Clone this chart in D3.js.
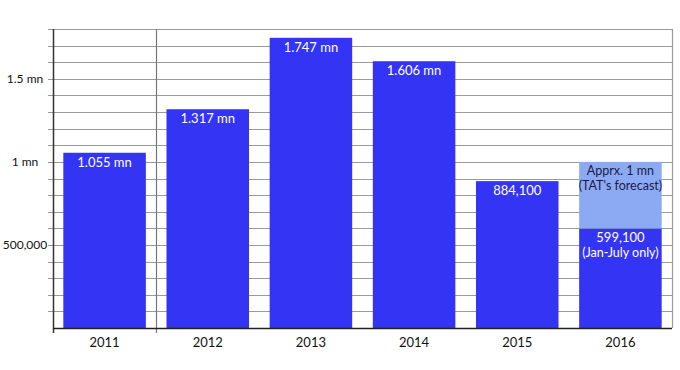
<!DOCTYPE html>
<html>
<head>
<meta charset="utf-8">
<script src="https://cdn.jsdelivr.net/npm/d3@7/dist/d3.min.js"></script>
<style>
  body { margin: 0; background: #fff; }
  text { font-family: Lato, "Open Sans", "Liberation Sans", sans-serif; }
</style>
</head>
<body>
<div id="chart"></div>
<script>
// data
const years = ["2011", "2012", "2013", "2014", "2015", "2016"];
const arrivals = [1055000, 1317000, 1747000, 1606000, 884100, 599100];
const barLabels = ["1.055 mn", "1.317 mn", "1.747 mn", "1.606 mn", "884,100", "599,100"];
const forecastYear = "2016";
const forecastValue = 1000000;
const forecastLabels = ["Apprx. 1 mn", "(TAT's forecast)"];
const partialNote = "(Jan-July only)";
const yTicks = [500000, 1000000, 1500000];
const yTickLabels = ["500,000", "1 mn", "1.5 mn"];

// set the dimensions and margins of the graph
const margin = {top: 29, right: 8, bottom: 42, left: 53};
const width  = 680 - margin.left - margin.right;
const height = 370 - margin.top - margin.bottom;

const x = d3.scaleBand()
    .domain(years)
    .range([0, width])
    .paddingInner(0.2)
    .paddingOuter(0.1);
const y = d3.scaleLinear()
    .domain([0, 1800000])
    .range([height, 0]);

const svg = d3.select("#chart").append("svg")
    .attr("width", 680)
    .attr("height", 370)
    .append("g")
    .attr("transform", "translate(" + margin.left + "," + margin.top + ")");

// horizontal gridlines every 100,000
svg.append("g")
    .selectAll("line")
    .data(d3.range(100000, 1800001, 100000))
    .enter().append("line")
    .attr("x1", -5)
    .attr("x2", width)
    .attr("y1", d => Math.round(y(d)) + 0.5)
    .attr("y2", d => Math.round(y(d)) + 0.5)
    .attr("stroke", "#9a9a9a")
    .attr("stroke-width", 1.2);

// right border
svg.append("line")
    .attr("x1", width + 0.5).attr("x2", width + 0.5)
    .attr("y1", 0).attr("y2", height)
    .attr("stroke", "#9a9a9a")
    .attr("stroke-width", 1.2);

// divider between first two categories
const step = x.step();
const divX = Math.round(x(years[1]) - step * x.paddingInner() / 2) + 0.5;
svg.append("line")
    .attr("x1", divX).attr("x2", divX)
    .attr("y1", 0).attr("y2", height + 5)
    .attr("stroke", "#777")
    .attr("stroke-width", 1.2);

// bars
svg.selectAll(".bar")
    .data(years)
    .enter().append("rect")
    .attr("x", d => x(d))
    .attr("width", x.bandwidth())
    .attr("y", (d, i) => y(arrivals[i]))
    .attr("height", (d, i) => height - y(arrivals[i]))
    .attr("fill", "#3434f5");

// forecast part of 2016
const fi = years.indexOf(forecastYear);
svg.append("rect")
    .attr("x", x(forecastYear))
    .attr("width", x.bandwidth())
    .attr("y", y(forecastValue))
    .attr("height", y(arrivals[fi]) - y(forecastValue))
    .attr("fill", "#8caaf4");

// bar labels
svg.selectAll(".lbl")
    .data(years)
    .enter().append("text")
    .attr("x", d => x(d) + x.bandwidth() / 2)
    .attr("y", (d, i) => y(arrivals[i]) + 14)
    .attr("text-anchor", "middle")
    .attr("fill", "#fff")
    .style("font-size", "13px")
    .text((d, i) => barLabels[i]);

svg.append("text")
    .attr("x", x(forecastYear) + x.bandwidth() / 2)
    .attr("y", y(arrivals[fi]) + 28.5)
    .attr("text-anchor", "middle")
    .attr("fill", "#fff")
    .style("font-size", "12.5px")
    .text(partialNote);

svg.selectAll(".fc")
    .data(forecastLabels)
    .enter().append("text")
    .attr("x", x(forecastYear) + x.bandwidth() / 2)
    .attr("y", (d, i) => y(forecastValue) + 13.5 + i * 14.5)
    .attr("text-anchor", "middle")
    .attr("fill", "#1a1a4a")
    .style("font-size", "12.5px")
    .text(d => d);

// left axis
svg.append("line")
    .attr("x1", 0.5).attr("x2", 0.5)
    .attr("y1", 0).attr("y2", height + 5)
    .attr("stroke", "#333")
    .attr("stroke-width", 1.5);

svg.selectAll(".ytl")
    .data(yTicks)
    .enter().append("text")
    .attr("x", -28)
    .attr("y", d => y(d))
    .attr("dy", "0.35em")
    .attr("text-anchor", "middle")
    .attr("fill", "#111")
    .style("font-size", "12px")
    .text((d, i) => yTickLabels[i]);

// bottom axis
svg.append("line")
    .attr("x1", 0).attr("x2", width)
    .attr("y1", height + 0.5).attr("y2", height + 0.5)
    .attr("stroke", "#222")
    .attr("stroke-width", 1.5);

svg.selectAll(".xtl")
    .data(years)
    .enter().append("text")
    .attr("x", d => x(d) + x.bandwidth() / 2)
    .attr("y", height + 14)
    .attr("dy", "0.35em")
    .attr("text-anchor", "middle")
    .attr("fill", "#111")
    .style("font-size", "13px")
    .text(d => d);
</script>
</body>
</html>
